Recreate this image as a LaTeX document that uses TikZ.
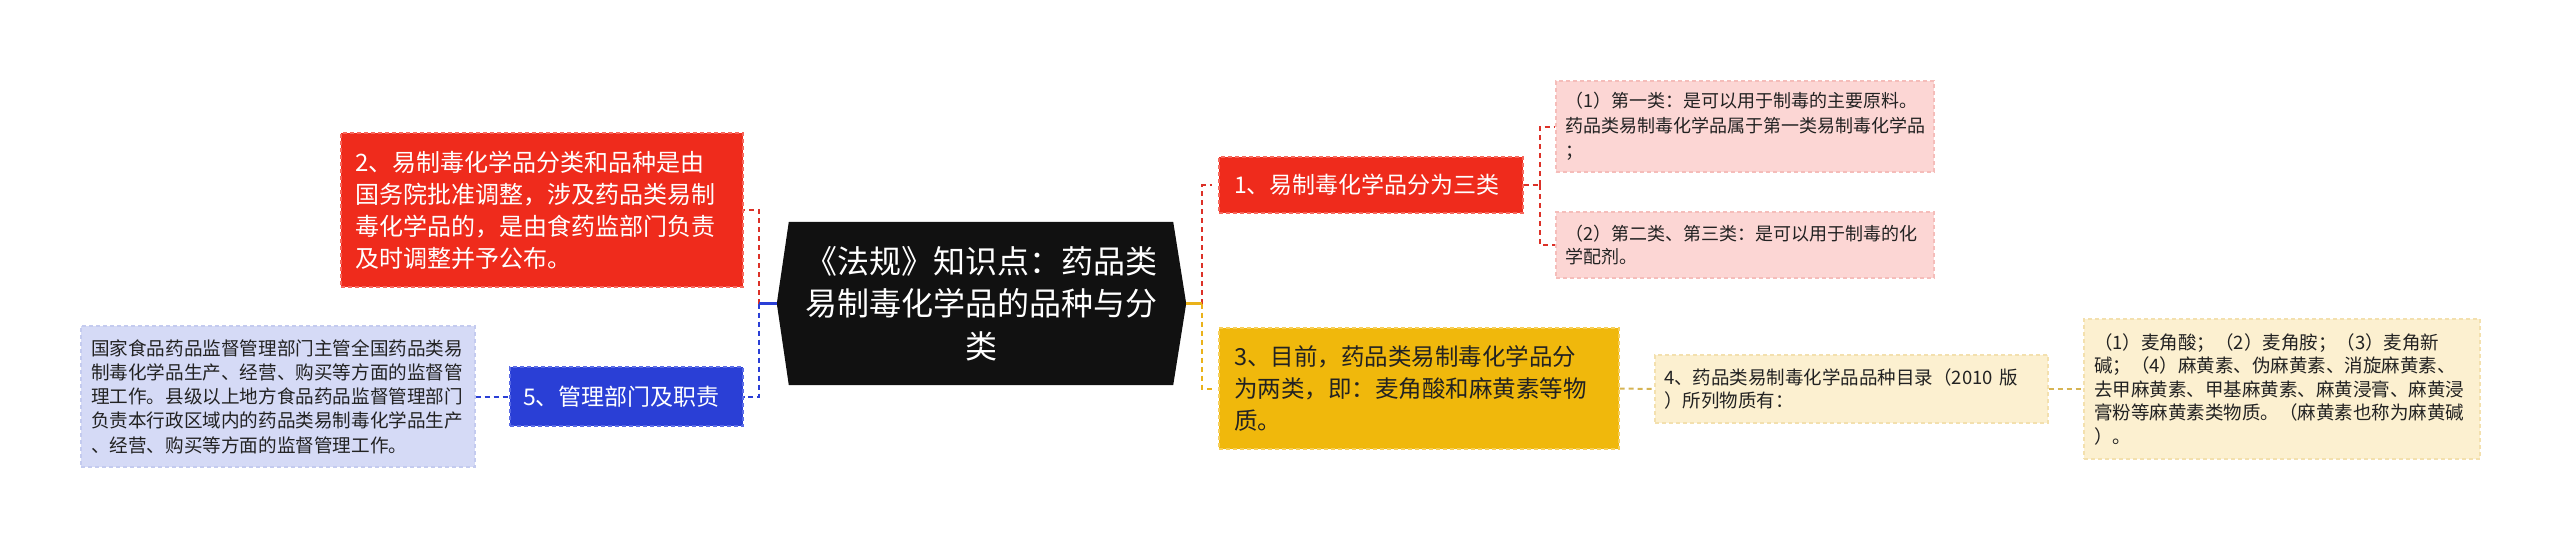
\documentclass[tikz,border=0pt]{standalone}
\usepackage{fontspec}
\setmainfont{Noto Sans CJK SC}
\usetikzlibrary{backgrounds}
\definecolor{cred}{HTML}{EF2B1C}
\definecolor{credb}{HTML}{F6675C}
\definecolor{cblue}{HTML}{2A3FD6}
\definecolor{cblueb}{HTML}{5A6BE6}
\definecolor{clilac}{HTML}{D5DAF6}
\definecolor{clilacb}{HTML}{C4CBEF}
\definecolor{cgold}{HTML}{F0B80C}
\definecolor{cgoldb}{HTML}{F6CF5A}
\definecolor{cpale}{HTML}{FCF0D0}
\definecolor{cpaleb}{HTML}{F3E0AE}
\definecolor{cpink}{HTML}{FCD6D4}
\definecolor{cpinkb}{HTML}{F5BDBA}
\definecolor{croot}{HTML}{111111}
\definecolor{lred}{HTML}{DC3128}
\definecolor{lgold}{HTML}{EAB21A}
\definecolor{lpale}{HTML}{D6B453}
\definecolor{dtext}{HTML}{222222}
\begin{document}
\begin{tikzpicture}[x=1pt,y=-1pt,
  card/.style={anchor=center, inner ysep=0pt, align=left, line width=1.3pt, dash pattern=on 4pt off 3pt},
  big/.style={font=\fontsize{23.5}{32}\selectfont},
  conn/.style={line width=2pt, dash pattern=on 5pt off 4pt},
  solidconn/.style={line width=2.4pt}
]
\useasboundingbox (0,0) rectangle (2560,547);

% root
\node[anchor=center, minimum width=384pt, minimum height=163pt, inner sep=0pt, text width=360pt, align=center,
  text=white, font=\fontsize{32}{42.5}\selectfont] (root) at (981,303.5)
  {《法规》知识点：药品类\\易制毒化学品的品种与分\\类};
\begin{scope}[on background layer]
\fill[white] (0,0) rectangle (2560,547);
\fill[croot] (root.north west) -- (root.north east) -- ([xshift=13pt]root.east) -- (root.south east)
  -- (root.south west) -- ([xshift=-12pt]root.west) -- cycle;
\end{scope}
\coordinate (rootL) at ([xshift=-12pt]root.west);
\coordinate (rootR) at ([xshift=13pt]root.east);

% left side
\node[card, fill=cred, draw=credb, text=white, minimum width=402pt, minimum height=154pt,
  inner xsep=14pt, text width=374pt, font=\fontsize{24}{32}\selectfont] (n2) at (542,210)
  {2、易制毒化学品分类和品种是由\\国务院批准调整，涉及药品类易制\\毒化学品的，是由食药监部门负责\\及时调整并予公布。};
\node[card, fill=cblue, draw=cblueb, text=white, minimum width=233pt, minimum height=59pt,
  inner xsep=13pt, text width=207pt, font=\fontsize{23}{32}\selectfont] (n5) at (626.5,396.5)
  {5、管理部门及职责};
\node[card, fill=clilac, draw=clilacb, text=dtext, minimum width=394pt, minimum height=141pt,
  inner xsep=10pt, text width=374pt, font=\fontsize{18.6}{24.3}\selectfont] (l5) at (278,396.5)
  {国家食品药品监督管理部门主管全国药品类易\\制毒化学品生产、经营、购买等方面的监督管\\理工作。县级以上地方食品药品监督管理部门\\负责本行政区域内的药品类易制毒化学品生产\\、经营、购买等方面的监督管理工作。};

% right side
\node[card, fill=cred, draw=credb, text=white, minimum width=304pt, minimum height=56pt,
  inner xsep=15pt, text width=274pt, font=\fontsize{23}{32}\selectfont] (n1) at (1371,185)
  {1、易制毒化学品分为三类};
\node[card, big, fill=cgold, draw=cgoldb, text=dtext, minimum width=400pt, minimum height=121pt,
  inner xsep=15pt, text width=370pt] (n3) at (1419,388.5)
  {3、目前，药品类易制毒化学品分\\为两类，即：麦角酸和麻黄素等物\\质。};
\node[card, fill=cpink, draw=cpinkb, text=dtext, minimum width=378pt, minimum height=91pt,
  inner xsep=9pt, text width=360pt, font=\fontsize{18}{25}\selectfont] (p1) at (1745,126.5)
  {（1）第一类：是可以用于制毒的主要原料。\\药品类易制毒化学品属于第一类易制毒化学品\\；};
\node[card, fill=cpink, draw=cpinkb, text=dtext, minimum width=378pt, minimum height=66pt,
  inner xsep=9pt, text width=360pt, font=\fontsize{18}{23}\selectfont] (p2) at (1745,245)
  {（2）第二类、第三类：是可以用于制毒的化\\学配剂。};
\node[card, fill=cpale, draw=cpaleb, text=dtext, minimum width=393pt, minimum height=68pt,
  inner xsep=9pt, text width=375pt, font=\fontsize{18.5}{23}\selectfont] (n4) at (1851.5,389)
  {4、药品类易制毒化学品品种目录（2010 版\\）所列物质有：};
\node[card, fill=cpale, draw=cpaleb, text=dtext, minimum width=396pt, minimum height=140pt,
  inner xsep=10pt, text width=376pt, font=\fontsize{18.5}{23.5}\selectfont] (l4) at (2282,389)
  {（1）麦角酸；（2）麦角胺；（3）麦角新\\碱；（4）麻黄素、伪麻黄素、消旋麻黄素、\\去甲麻黄素、甲基麻黄素、麻黄浸膏、麻黄浸\\膏粉等麻黄素类物质。（麻黄素也称为麻黄碱\\）。};

% junctions
\coordinate (jl) at (759,303.5);
\coordinate (jr) at (1202,303.5);
\coordinate (j1) at (1540,185);

% left connectors
\draw[conn, lred] (jl) |- (n2.east);
\draw[conn, cblue] (jl) |- (n5.east);
\draw[solidconn, cblue] (rootL) -- (jl);
\draw[conn, cblue] (l5.east) -- (n5.west);

% right connectors
\draw[conn, lred, shorten >=6pt] (jr) |- (n1.west);
\draw[conn, lgold, shorten >=6pt] (jr) |- (n3.west);
\draw[solidconn, lgold] (rootR) -- (jr);
\draw[conn, lred] (n1.east) -- (j1);
\draw[conn, lred] (j1) |- (p1.west);
\draw[conn, lred] (j1) |- (p2.west);
\draw[conn, lpale] (n3.east) -- (n4.west);
\draw[conn, lpale] (n4.east) -- (l4.west);
\end{tikzpicture}
\end{document}
